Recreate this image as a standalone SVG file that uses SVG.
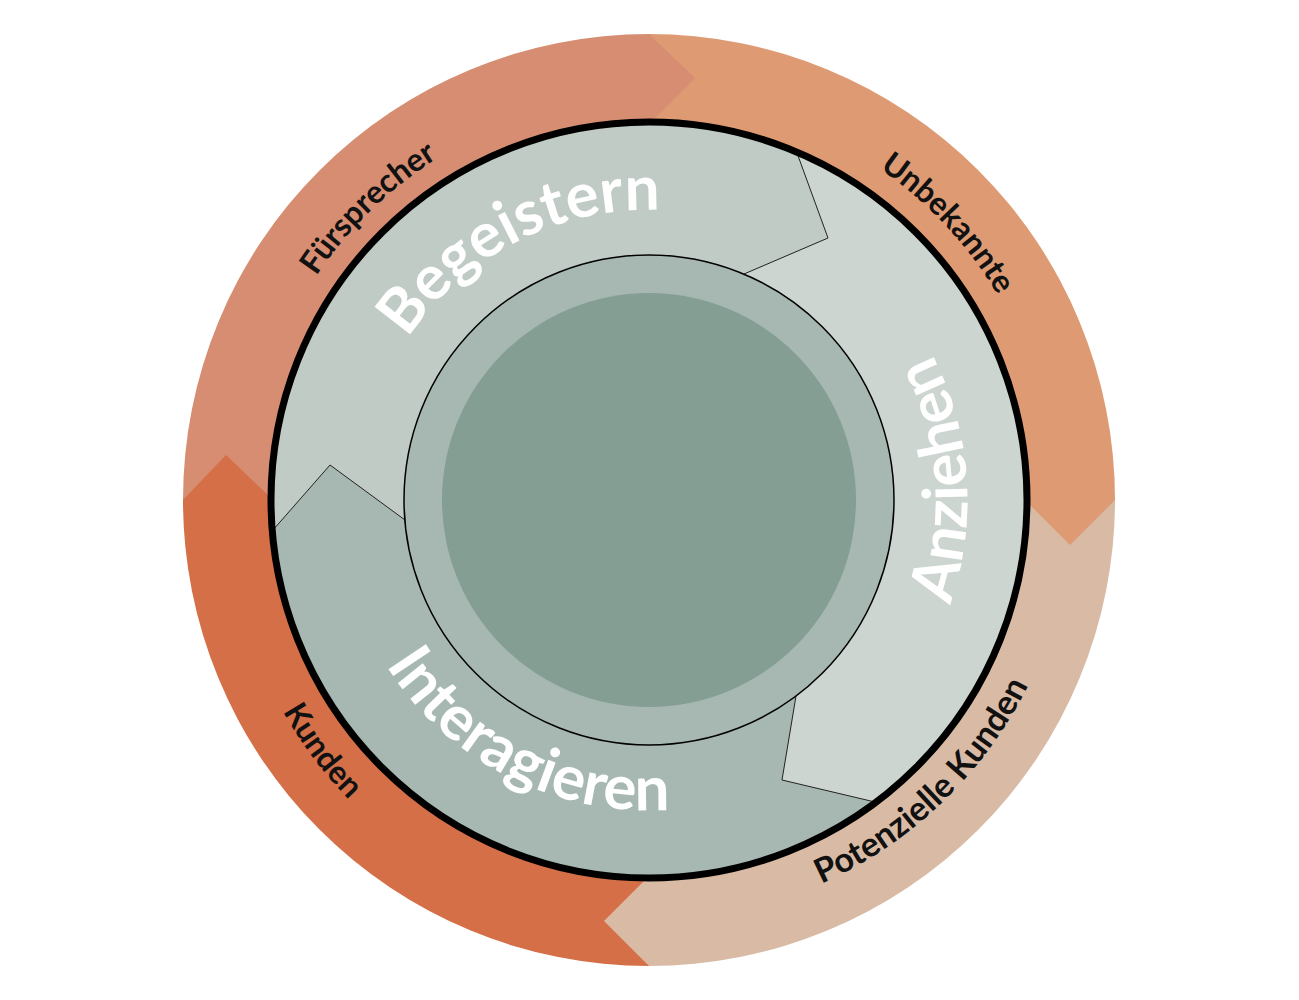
<svg xmlns="http://www.w3.org/2000/svg" width="1299" height="1000" viewBox="0 0 1299 1000">
<style>
.o{font-family:Lato,"Liberation Sans",sans-serif;font-weight:bold;font-size:32px;fill:#111}
.i{font-family:Lato,"Liberation Sans",sans-serif;font-weight:bold;font-size:62px;fill:#fff}
.b{fill:none;stroke:#222;stroke-width:1;stroke-linejoin:round}
</style>
<defs>
<path id="pF" d="M259,597 A406,406 0 0 1 760,110"/>
<path id="pU" d="M559,106 A408,408 0 0 1 1039,619"/>
<path id="pP" d="M532,905 A425,425 0 0 0 1061,397"/>
<path id="pK" d="M259,336 A432,432 0 0 0 702,929"/>
<path id="pB" d="M359,485 A290,290 0 0 1 807,257"/>
<path id="pA" d="M827,764 A318,318 0 0 0 788,214"/>
<path id="pI" d="M339,516 A310,310 0 0 0 818,760"/>
</defs>
<rect width="1299" height="1000" fill="#fff"/>
<g id="outer-ring">
<path d="M649,500 L183,500 A466,466 0 0 1 649,34 Z" fill="#d68d71"/>
<path d="M649,500 L649,34 A466,466 0 0 1 1115,500 Z" fill="#de9b73"/>
<path d="M649,500 L1115,500 A466,466 0 0 1 649,966 Z" fill="#d9bba5"/>
<path d="M649,500 L649,966 A466,466 0 0 1 183,500 Z" fill="#d46f47"/>
<polygon points="649,34 695,78 649,124" fill="#d68d71"/>
<polygon points="1115,500 1070,545 1025,500" fill="#de9b73"/>
<polygon points="649,966 604,921 649,876" fill="#d9bba5"/>
<polygon points="183,500 226,455 273,500" fill="#d46f47"/>
</g>
<g id="inner-band">
<circle cx="649" cy="500" r="378" fill="#c0cbc6"/>
<path d="M797,153 A377,377 0 0 1 875,802 L782,780 L796,696 A245,245 0 0 0 744,274 L828,238 Z" fill="#cdd5d0"/>
<path d="M875,802 A377,377 0 0 1 273,530 L330,465 L405,520 A245,245 0 0 0 796,696 L782,780 Z" fill="#a6b8b1"/>
</g>
<g id="connectors">
<polyline class="b" points="797,153 828,238 744,274"/>
<polyline class="b" points="875,802 782,780 796,696"/>
<polyline class="b" points="273,530 330,465 405,520"/>
</g>
<circle cx="649" cy="500" r="378" fill="none" stroke="#000" stroke-width="7"/>
<g id="center">
<circle cx="649" cy="500" r="245" fill="#a6b8b1" stroke="#000" stroke-width="1.5"/>
<circle cx="649" cy="500" r="207" fill="#849e94"/>
</g>
<g id="labels">
<text class="o"><textPath href="#pF" startOffset="50%" text-anchor="middle">Fürsprecher</textPath></text>
<text class="o"><textPath href="#pU" startOffset="50%" text-anchor="middle">Unbekannte</textPath></text>
<text class="o" style="font-size:34px"><textPath href="#pP" startOffset="50%" text-anchor="middle">Potenzielle Kunden</textPath></text>
<text class="o"><textPath href="#pK" startOffset="50%" text-anchor="middle">Kunden</textPath></text>
<text class="i"><textPath href="#pB" startOffset="50%" text-anchor="middle">Begeistern</textPath></text>
<text class="i"><textPath href="#pA" startOffset="50%" text-anchor="middle">Anziehen</textPath></text>
<text class="i"><textPath href="#pI" startOffset="50%" text-anchor="middle">Interagieren</textPath></text>
</g>
</svg>
